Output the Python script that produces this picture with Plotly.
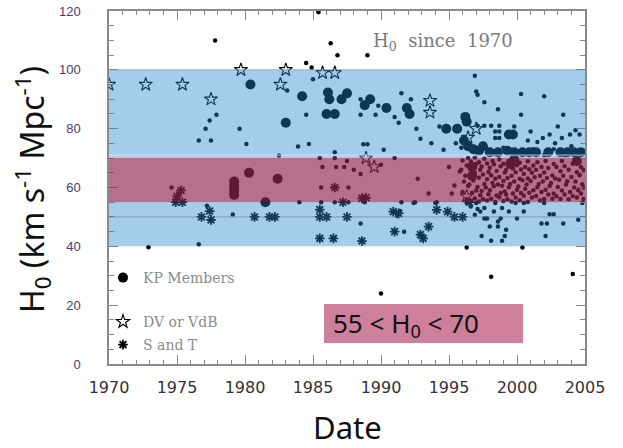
import plotly.graph_objects as go

# ---------------- data ----------------
x_range = [1970, 2005]
y_range = [0, 120]
x_ticks = [1970, 1975, 1980, 1985, 1990, 1995, 2000, 2005]
y_ticks = [0, 20, 40, 60, 80, 100, 120]
blue_band = [40, 100]
pink_band = [55, 70]

kp_year = [1980.4, 1980.3, 1979.2, 1979.2, 1979.2, 1979.2, 1981.5, 1982.4, 1983.0, 1984.2,
           1986.1, 1986.2, 1986.0, 1986.6, 1987.1, 1987.5, 1988.8, 1989.2, 1990.4, 1991.9,
           1992.1, 1994.8, 1995.6, 1996.2, 1996.3, 1996.1, 1996.4, 1996.8, 1997.2, 1997.5,
           1998.0, 1998.6, 1999.3, 1999.4, 1999.7, 1999.8, 2000.4, 2000.9, 2001.4, 2002.3,
           2003.2, 2003.7, 2004.2, 2004.7, 1996.7, 1996.7, 1999.5, 1999.8, 2004.4]
kp_h0 = [95, 65, 62, 60.5, 59, 57.5, 55, 63, 82, 91,
         92.3, 90, 85, 85, 90, 92, 88, 90, 87, 87,
         85, 80, 80, 84, 82.4, 76, 74, 73, 72.5, 74,
         72, 72, 72.5, 78, 78, 72, 72, 72, 72, 72,
         72, 72, 72, 72, 67, 64, 68, 69.5, 69]

dv_year = [1970.0, 1972.7, 1975.4, 1977.5, 1979.7, 1982.6, 1983.0, 1985.7, 1986.6, 1988.9,
           1989.5, 1993.6, 1993.6, 1997.0, 1996.4, 1996.3]
dv_h0 = [95, 95, 95, 90, 100, 95, 100, 99, 99, 70,
         67, 89.5, 85.5, 80, 77, 57]

st_year = [1974.9, 1975.4, 1975.0, 1975.3, 1977.4, 1976.8, 1977.5, 1980.7, 1981.8, 1982.2,
           1985.5, 1985.5, 1986.0, 1987.5, 1985.5, 1986.5, 1986.6, 1987.2, 1988.6, 1988.9,
           1988.6, 1990.9, 1991.3, 1991.0, 1992.9, 1993.1, 1993.5, 1994.1, 1994.9, 1995.4,
           1996.0, 1996.5]
st_h0 = [55, 55, 57, 59, 52, 50, 49, 50, 50, 50,
         52.5, 50, 50, 50, 42.7, 42.7, 60, 55, 56.3, 56.5,
         41.8, 51.8, 51.2, 45, 44, 42.7, 46.7, 52.4, 51.8, 50,
         50, 55]

other_year = [
    1977.8, 1985.4, 1986.3, 1986.8, 1989.0, 1984.5, 1984.9, 1985.0, 1983.1,
    1977.9, 1977.4, 1977.1, 1979.6, 1976.6, 1977.5, 1980.1, 1982.5, 1983.9, 1984.7,
    1984.5, 1988.5, 1988.5, 1989.8, 1989.6, 1991.0, 1991.3, 1991.5, 1992.2, 1988.7,
    1989.0, 1990.2, 1986.6, 1985.5, 1986.6, 1991.0, 1992.6, 1992.9, 1993.7, 1994.3,
    1994.6,
    1974.6, 1975.2, 1985.7, 1986.7, 1987.3, 1987.5, 1988.0, 1988.5, 1990.0, 1985.6,
    1987.6, 1992.7, 1993.5, 1995.0, 1995.4, 1995.2, 1995.8,
    1977.2, 1979.1, 1972.9, 1976.6, 1984.0, 1985.6, 1986.6, 1987.6, 1991.5, 1992.5,
    1988.8, 1994.1, 1991.4, 1991.2, 1988.5, 1991.7, 1992.4, 1994.0,
    1990.0, 1996.3, 2000.4, 1998.1, 2004.1,
    1996.9, 1997.0, 1997.1, 1997.6, 2000.3, 2002.0, 1998.6, 2000.3, 2003.4, 1997.1,
    1997.6, 1998.1, 1998.7, 1999.8, 1998.4, 1998.7, 1998.4, 1998.7, 2001.0, 2000.8,
    2001.9, 2002.4, 2003.0, 2003.3, 2003.9, 2004.6, 2004.3, 2001.5, 2002.8, 1995.5,
    1995.9, 1997.8, 1998.3, 1999.0, 2000.0, 2001.2, 2002.0, 2002.7, 2003.5, 2004.0,
    2004.9,
    1996.3, 1997.0, 1997.6, 1997.3, 1996.9, 1998.3, 1998.9, 1999.4, 1997.6, 1997.8,
    1998.8, 1998.6, 2000.0, 2000.5, 1998.0, 1998.6, 1999.2, 1997.4, 1998.1, 1998.9,
    1999.1, 2002.1, 2001.8, 2002.2, 2002.4, 2002.7, 2003.4, 2004.5, 2002.0, 2004.8,
    2000.5, 1999.9, 1998.4, 1996.6, 1997.1,
    1996.0, 1996.1, 1995.9, 1996.0, 1996.3, 1996.4, 1996.2, 1996.3, 1996.4,
    1996.6, 1996.7, 1996.5, 1996.6, 1996.7, 1996.6, 1996.9, 1997.0, 1996.8, 1996.9,
    1997.0, 1996.9, 1997.2, 1997.3, 1997.1, 1997.2, 1997.3, 1997.2, 1997.5, 1997.4,
    1997.6, 1997.5, 1997.4, 1997.6, 1997.8, 1997.9, 1997.7, 1997.8, 1997.9, 1997.8,
    1998.1, 1998.0, 1998.2, 1998.1, 1998.0, 1998.2, 1998.4, 1998.5, 1998.3, 1998.4,
    1998.5, 1998.3, 1998.7, 1998.8, 1998.6, 1998.7, 1998.8, 1998.7, 1999.0, 1999.1,
    1998.9, 1999.0, 1999.1, 1999.0, 1999.3, 1999.2, 1999.4, 1999.3, 1999.2, 1999.4,
    1999.6, 1999.7, 1999.5, 1999.6, 1999.7, 1999.9, 2000.0, 1999.8, 1999.9, 2000.0,
    2000.2, 2000.3, 2000.1, 2000.2, 2000.3, 2000.2, 2000.5, 2000.6, 2000.4, 2000.5,
    2000.6, 2000.8, 2000.9, 2000.7, 2000.8, 2000.9, 2000.8, 2001.1, 2001.2, 2001.0,
    2001.1, 2001.2, 2001.4, 2001.5, 2001.3, 2001.4, 2001.5, 2001.7, 2001.8, 2001.6,
    2001.7, 2001.8, 2002.0, 2002.1, 2001.9, 2002.0, 2002.1, 2002.3, 2002.4, 2002.2,
    2002.3, 2002.6, 2002.7, 2002.5, 2002.6, 2002.7, 2002.9, 2003.0, 2002.8, 2002.9,
    2003.2, 2003.3, 2003.1, 2003.2, 2003.3, 2003.5, 2003.6, 2003.4, 2003.5, 2003.8,
    2003.9, 2003.7, 2003.8, 2004.1, 2004.2, 2004.0, 2004.1, 2004.4, 2004.5, 2004.3,
    2004.4, 2004.7, 2004.8, 2004.6, 2004.7, 2004.9, 2004.9, 2004.9]
other_h0 = [
    110, 119.6, 109, 105, 105, 102.3, 100.8, 96.8, 93,
    84.7, 82.8, 80, 80, 76, 76, 74.8, 70.9, 73.9, 74.8,
    84.7, 90, 84.7, 87.8, 84.7, 84, 82, 92, 90, 74.7,
    74.7, 72.8, 72, 70, 70, 70, 80, 76.6, 75, 80.7,
    72.8,
    60, 58, 67, 67, 67, 69, 66, 64.6, 67.7, 60,
    60, 63, 58, 67, 60.7, 58, 65.4,
    53.8, 50.8, 39.7, 40.7, 55, 55, 55, 55, 55, 55,
    55, 55, 52, 50.3, 47.8, 45, 54.7, 54.7,
    24, 39.6, 39.6, 29.7, 30.6,
    98, 92.6, 91.5, 89, 91.8, 91, 86.6, 84.7, 84.7, 81,
    81, 81, 81, 80.7, 79, 79, 76.8, 76.8, 79, 76,
    76.8, 78, 80.7, 76.8, 78, 78, 79.5, 75.5, 75, 75,
    73.5, 73, 71.5, 73.5, 71.5, 73, 71, 73, 71, 74,
    71.5,
    54.7, 54.7, 53, 51.8, 50.7, 51.8, 53, 51.8, 49.5, 49.5,
    49.5, 48.4, 49.5, 51.8, 46.7, 46.7, 45.6, 43.5, 41.9, 41.9,
    43.5, 43.5, 47.8, 47.8, 50.9, 50.9, 47.8, 49, 54.7, 54.7,
    54.7, 54.7, 54.7, 53.5, 52.7,
    58.5, 62, 66, 69.2, 56, 60.5, 64, 67.5, 70,
    55.5, 58.2, 61, 63.5, 66.2, 68.8, 56.3, 59, 62.4, 65,
    68, 70.2, 55.2, 57.4, 60.2, 63.3, 66, 68.6, 56, 58.8,
    61.2, 64.4, 67.1, 69.8, 55.6, 57.7, 60, 62.8, 65.3, 68.2,
    56.2, 59.1, 61.5, 64.2, 66.7, 69, 55.1, 57.3, 60.4, 63,
    65.6, 67.9, 56.7, 58.1, 61, 63.6, 67.2, 69.5, 55.4, 58.6,
    60.6, 62.2, 65.1, 68.1, 56, 57.6, 60.1, 63.2, 66, 69.1,
    55.2, 58, 61.2, 64, 66.5, 56.6, 59.2, 62, 65.2, 67.6,
    55.7, 58.1, 60.3, 63, 66.1, 68.4, 57.2, 59.6, 62.5, 64.6,
    67, 55.1, 58.2, 61, 63.1, 66.2, 68.9, 56.6, 59.1, 62.2,
    65, 67.5, 57.1, 60.1, 63.5, 66, 68.6, 55.6, 58.5, 61.2,
    64, 67, 56.1, 59.2, 62, 65.1, 69, 57.6, 60.5, 63.2,
    66.6, 56.2, 58, 61.5, 64.1, 68, 57, 60.2, 63.1, 67,
    56.1, 59, 62.6, 65.5, 69, 57.6, 61, 64, 67.2, 56,
    58.5, 62.1, 66, 57.1, 60, 63.6, 68.1, 56.6, 59.1, 62,
    65.2, 58, 61.1, 64.2, 67, 56.1, 60, 66]

# ---------------- figure ----------------
W, H = 623, 448               # page body margin removed via post_script
L, R, T, B = 109, 38, 11, 84
pw, ph = W - L - R, H - T - B

def px(xp):
    """window pixel x -> paper fraction"""
    return (xp - L) / pw

def py(yp):
    """window pixel y -> paper fraction"""
    return (H - B - yp) / ph

fig = go.Figure()

fig.add_trace(go.Scatter(x=other_year, y=other_h0, mode="markers", showlegend=False,
                         marker=dict(size=4.5, color="black"), hoverinfo="skip"))
fig.add_trace(go.Scatter(x=st_year, y=st_h0, mode="markers", name="S and T", legend="legend3",
                         marker=dict(symbol="asterisk-open", size=8, color="black",
                                     line=dict(width=1.8, color="black"))))
fig.add_trace(go.Scatter(x=dv_year, y=dv_h0, mode="markers", name="DV or VdB", legend="legend2",
                         marker=dict(symbol="star-open", size=10, color="black",
                                     line=dict(width=1.1, color="black"))))
fig.add_trace(go.Scatter(x=kp_year, y=kp_h0, mode="markers", name="KP Members", legend="legend",
                         marker=dict(size=10, color="black")))

shapes = []
for y0, y1 in [(blue_band[0], pink_band[0]), (pink_band[1], blue_band[1])]:
    shapes.append(dict(type="rect", xref="x", yref="y", x0=x_range[0], x1=x_range[1],
                       y0=y0, y1=y1, fillcolor="rgb(34,134,207)", opacity=0.41,
                       line=dict(width=0), layer="above"))
shapes.append(dict(type="rect", xref="x", yref="y", x0=x_range[0], x1=x_range[1],
                   y0=pink_band[0], y1=pink_band[1], fillcolor="rgb(144,38,83)", opacity=0.66,
                   line=dict(width=0), layer="above"))
shapes.append(dict(type="line", xref="x", yref="y", x0=x_range[0], x1=x_range[1], y0=50, y1=50,
                   line=dict(color="rgba(70,100,130,0.45)", width=1), layer="above"))
shapes.append(dict(type="line", xref="x", yref="y", x0=x_range[0], x1=x_range[1], y0=71, y1=71,
                   line=dict(color="rgba(215,230,240,0.5)", width=2), layer="above"))
shapes.append(dict(type="line", xref="x", yref="y", x0=x_range[0], x1=x_range[1],
                   y0=blue_band[1], y1=blue_band[1],
                   line=dict(color="rgba(120,140,160,0.6)", width=1), layer="above"))
shapes.append(dict(type="rect", xref="paper", yref="paper", x0=px(324), x1=px(523),
                   y0=py(343), y1=py(304), fillcolor="rgb(205,127,155)",
                   line=dict(width=0), layer="above"))

annotations = [
    dict(text="H<sub>0</sub>\u00a0 since\u00a0 1970", xref="paper", yref="paper",
         x=px(443), y=py(42), xanchor="center", yanchor="middle", showarrow=False,
         font=dict(family="DejaVu Serif", size=18, color="#7a7a7a")),
    dict(text="55 &lt; H<sub>0</sub> &lt; 70", xref="paper", yref="paper",
         x=px(331), y=py(324), xanchor="left", yanchor="middle", showarrow=False,
         font=dict(family="Noto Sans", size=26, color="#111")),
    dict(text="Date", xref="paper", yref="paper", x=px(347), y=py(427),
         xanchor="center", yanchor="middle", showarrow=False,
         font=dict(family="Noto Sans", size=31, color="#111")),
    dict(text="H<sub>0</sub> (km s<sup>-1</sup> Mpc<sup>-1</sup>)", xref="paper", yref="paper",
         x=px(33), y=py(190), xanchor="center", yanchor="middle", textangle=-90,
         showarrow=False, font=dict(family="Noto Sans", size=32, color="#111")),
]

leg_font = dict(family="DejaVu Serif", size=14, color="#8c8c8c")
leg_common = dict(xanchor="left", yanchor="middle", bgcolor="rgba(0,0,0,0)",
                  font=leg_font, itemsizing="trace")

fig.update_layout(
    width=W, height=H,
    margin=dict(l=L, r=R, t=T, b=B, autoexpand=False),
    paper_bgcolor="white", plot_bgcolor="white",
    shapes=shapes, annotations=annotations,
    legend=dict(x=px(103), y=py(278), **leg_common),
    legend2=dict(x=px(103), y=py(322), **leg_common),
    legend3=dict(x=px(103), y=py(345), **leg_common),
    xaxis=dict(range=x_range, tickvals=x_ticks, ticks="inside", ticklen=9, tickwidth=1.3,
               tickcolor="#8a8a8a", showline=True, linecolor="#8a8a8a", linewidth=1.5,
               mirror="allticks", showgrid=False, zeroline=False, automargin=False,
               minor=dict(ticks="inside", dtick=1, ticklen=4, tickcolor="#8a8a8a", showgrid=False),
               tickfont=dict(family="DejaVu Sans", size=16, color="#333"),
               ticklabelstandoff=8, ticklabeloverflow="allow"),
    yaxis=dict(range=y_range, tickvals=y_ticks, ticks="inside", ticklen=9, tickwidth=1.3,
               tickcolor="#8a8a8a", showline=True, linecolor="#8a8a8a", linewidth=1.5,
               mirror="allticks", showgrid=False, zeroline=False, automargin=False,
               minor=dict(ticks="inside", dtick=5, ticklen=5, tickcolor="#8a8a8a", showgrid=False),
               tickfont=dict(family="Liberation Sans", size=13, color="#4a3d6a"),
               ticklabelstandoff=24, ticklabeloverflow="allow"),
)

fig.write_html("out.html", config={"displayModeBar": False},
               post_script="document.body.style.margin='0';document.body.style.overflow='hidden';")
